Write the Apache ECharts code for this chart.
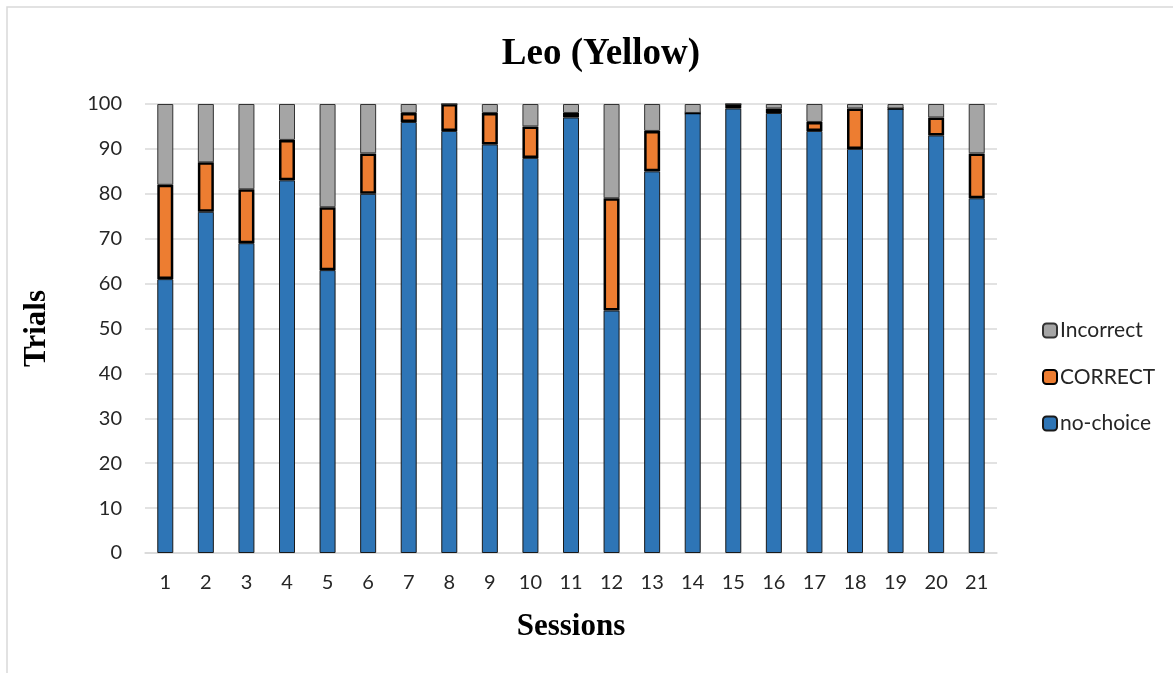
<!DOCTYPE html>
<html>
<head>
<meta charset="utf-8">
<script src="https://cdn.jsdelivr.net/npm/echarts@6/dist/echarts.min.js"></script>
<style>
html,body{margin:0;padding:0;background:#fff;}
#chart{width:1173px;height:673px;}
</style>
</head>
<body>
<div id="chart"></div>
<script>
const sessions = ['1','2','3','4','5','6','7','8','9','10','11','12','13','14','15','16','17','18','19','20','21'];
const noChoice  = [61,76,69,83,63,80,96,94,91,88,97,54,85,98,99,98,94,90,99,93,79];
const correct   = [21,11,12, 9,14, 9, 2, 6, 7, 7, 1,25, 9, 0, 1, 1, 2, 9, 0, 4,10];
const incorrect = [18,13,19, 8,23,11, 2, 0, 2, 5, 2,21, 6, 2, 0, 1, 4, 1, 1, 3,11];
const yTicks = [0,10,20,30,40,50,60,70,80,90,100];

const chart = echarts.init(document.getElementById('chart'), null, {renderer:'canvas'});
const tickFont = {fontFamily:'Lato', fontSize:20, color:'#262626'};
const bw = 16;
chart.setOption({
  animation:false,
  backgroundColor:'#fff',
  graphic:[{type:'rect', shape:{x:7,y:7,width:1300,height:800}, style:{fill:'none', stroke:'#d9d9d9', lineWidth:1.5}, silent:true}],
  title:{text:'Leo (Yellow)', left:596, top:31, textAlign:'center',
    textStyle:{fontFamily:'Liberation Serif', fontWeight:'bold', fontSize:37, color:'#000'}},
  legend:{orient:'vertical', left:1037, top:315, itemGap:25.5, itemWidth:14, itemHeight:14,
    data:['Incorrect','CORRECT','no-choice'],
    textStyle:{fontFamily:'Lato', fontSize:21, color:'#262626', lineHeight:20, padding:[0,0,0,-2]}},
  grid:{left:145, right:176, top:104, bottom:120},
  xAxis:{type:'category', data:sessions,
    name:'Sessions', nameLocation:'middle', nameGap:58,
    nameTextStyle:{fontFamily:'Liberation Serif', fontWeight:'bold', fontSize:31, color:'#000'},
    axisTick:{show:false}, axisLine:{lineStyle:{color:'#d9d9d9', width:1.5}},
    axisLabel:Object.assign({margin:20}, tickFont)},
  yAxis:{type:'value', min:0, max:100, interval:10,
    name:'Trials', nameLocation:'middle', nameGap:93,
    nameTextStyle:{fontFamily:'Liberation Serif', fontWeight:'bold', fontSize:31, color:'#000'},
    axisLine:{show:false}, axisTick:{show:false},
    axisLabel:Object.assign({margin:23, customValues:yTicks}, tickFont),
    splitLine:{lineStyle:{color:'#d9d9d9', width:1.5}}},
  series:[
    {name:'no-choice', type:'bar', stack:'t', data:noChoice, barWidth:bw,
      itemStyle:{color:'#2E75B6', borderColor:'#1a1a1a', borderWidth:1}},
    {name:'CORRECT', type:'bar', stack:'t', data:correct, barWidth:bw,
      itemStyle:{color:'#ED7D31', borderColor:'#000', borderWidth:2.5}},
    {name:'Incorrect', type:'bar', stack:'t', data:incorrect, barWidth:bw,
      itemStyle:{color:'#A5A5A5', borderColor:'#333', borderWidth:1}}
  ]
});
</script>
</body>
</html>
